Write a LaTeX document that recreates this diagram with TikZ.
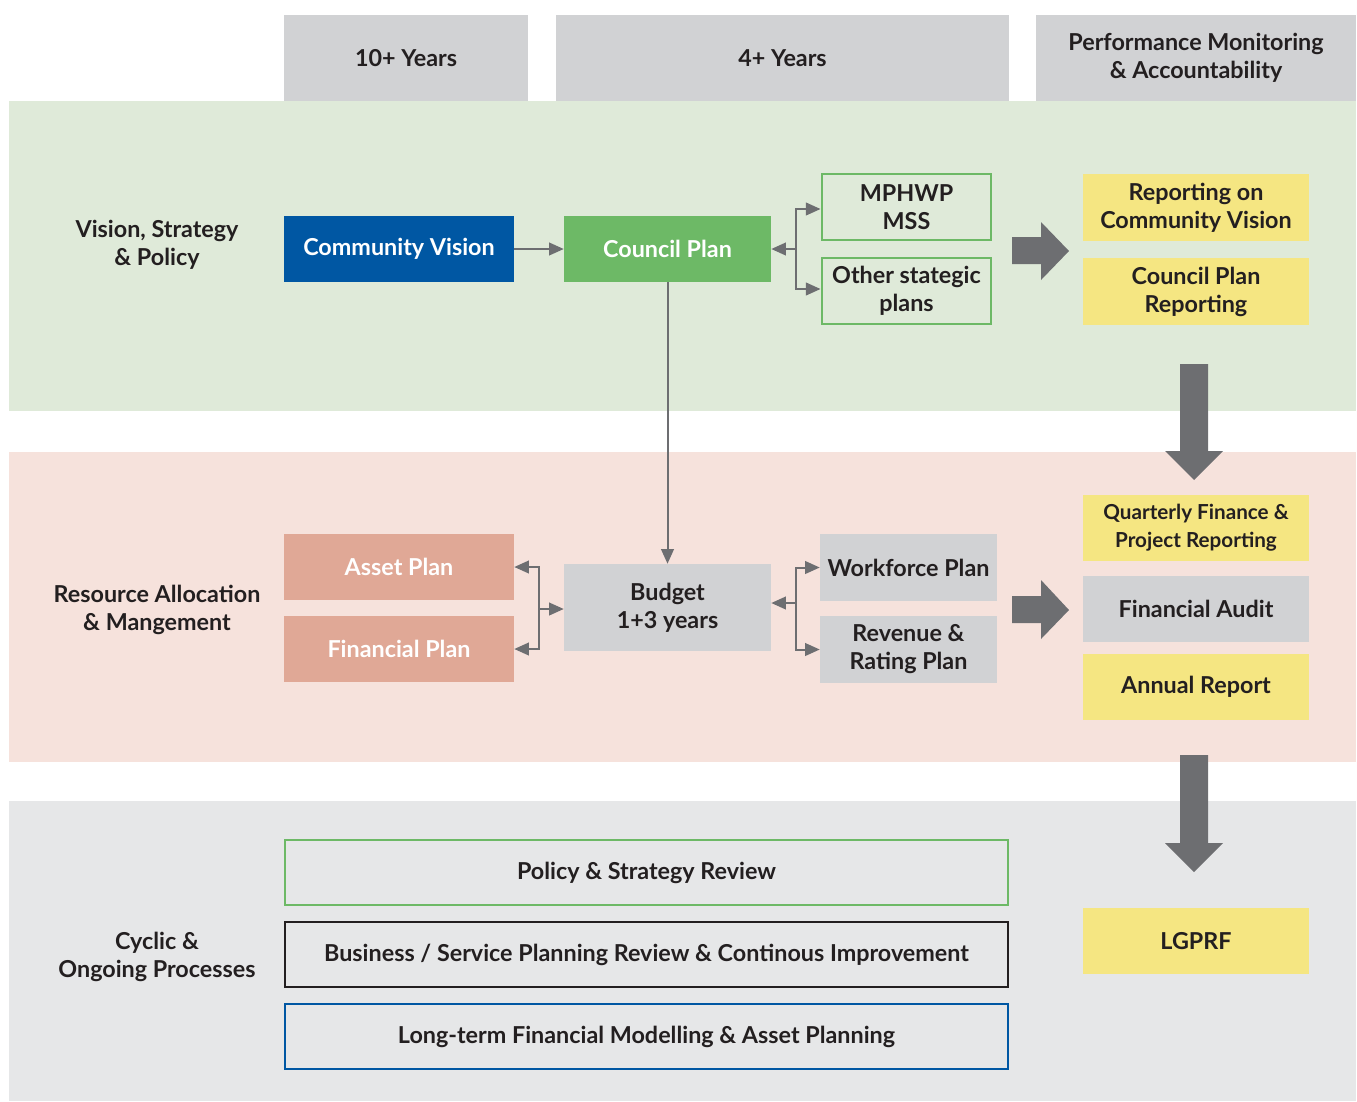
\documentclass[tikz,border=0pt]{standalone}
\usepackage{fontspec}
\setmainfont{Lato}
\usepackage{xcolor}
\usepackage{tikz}
\usetikzlibrary{calc}
\usetikzlibrary{arrows}
\usetikzlibrary{arrows.meta}
\usetikzlibrary{positioning}
\tikzset{>=latex}
\definecolor{hdrgray}{HTML}{D1D2D4}
\definecolor{bandgreen}{HTML}{DFEAD9}
\definecolor{bandpink}{HTML}{F6E2DC}
\definecolor{bandgray}{HTML}{E6E7E8}
\definecolor{cvblue}{HTML}{0057A3}
\definecolor{cpgreen}{HTML}{6DB966}
\definecolor{salmon}{HTML}{E0A896}
\definecolor{repyellow}{HTML}{F5E682}
\definecolor{arrgray}{HTML}{6D6E71}
\definecolor{txtdark}{HTML}{231F20}
\tikzstyle{box} = [rectangle, inner sep=0pt, align=center, text=txtdark, font=\bfseries\fontsize{17.5}{21}\selectfont]
\tikzstyle{lbl} = [align=center, text=txtdark, font=\bfseries\fontsize{17.5}{21}\selectfont]
\tikzstyle{link} = [-{Triangle[length=11pt, width=9.5pt]}, draw=arrgray, line width=1.5pt]
\tikzstyle{bigarrow} = [fill=arrgray, draw=none]

\begin{document}
\begin{tikzpicture}[x=0.75pt, y=-0.75pt]
\useasboundingbox (0,0) rectangle (1357,1101);
% bands
\fill [bandgreen] (9,101) rectangle (1356,411);
\fill [bandpink] (9,452) rectangle (1356,762);
\fill [bandgray] (9,801) rectangle (1356,1101);
% headers
\node [box, fill=hdrgray, minimum width=244*0.75pt, minimum height=86*0.75pt] (ten) at (406,58) {10+ Years};
\node [box, fill=hdrgray, minimum width=453*0.75pt, minimum height=86*0.75pt] (four) at (782.5,58) {4+ Years};
\node [box, fill=hdrgray, minimum width=320*0.75pt, minimum height=86*0.75pt] (perf) at (1196,58) {Performance Monitoring\\ \& Accountability};
% row labels
\node [lbl] (vsp) at (157,245) {Vision, Strategy\\ \& Policy};
\node [lbl] (ram) at (157,610) {Resource Allocation\\ \& Mangement};
\node [lbl] (cop) at (157,957) {Cyclic \&\\ Ongoing Processes};
% vision, strategy & policy
\node [box, fill=cvblue, text=white, minimum width=230*0.75pt, minimum height=66*0.75pt] (cv) at (399,249) {Community Vision};
\node [box, fill=cpgreen, text=white, minimum width=207*0.75pt, minimum height=66*0.75pt] (cp) at (667.5,249) {Council Plan};
\node [box, draw=cpgreen, line width=2.2pt, minimum width=169*0.75pt, minimum height=66*0.75pt] (mss) at (906.5,207) {MPHWP\\ MSS};
\node [box, draw=cpgreen, line width=2.2pt, minimum width=169*0.75pt, minimum height=66*0.75pt] (osp) at (906.5,291) {Other stategic\\ plans};
\node [box, fill=repyellow, minimum width=226*0.75pt, minimum height=67*0.75pt] (rcv) at (1196,207.5) {Reporting on\\ Community Vision};
\node [box, fill=repyellow, minimum width=226*0.75pt, minimum height=67*0.75pt] (cpr) at (1196,291.5) {Council Plan\\ Reporting};
% resource allocation & management
\node [box, fill=salmon, text=white, minimum width=230*0.75pt, minimum height=66*0.75pt] (ap) at (399,567) {Asset Plan};
\node [box, fill=salmon, text=white, minimum width=230*0.75pt, minimum height=66*0.75pt] (fp) at (399,649) {Financial Plan};
\node [box, fill=hdrgray, minimum width=207*0.75pt, minimum height=87*0.75pt] (bud) at (667.5,607.5) {Budget\\ 1+3 years};
\node [box, fill=hdrgray, minimum width=177*0.75pt, minimum height=67*0.75pt] (wf) at (908.5,567.5) {Workforce Plan};
\node [box, fill=hdrgray, minimum width=177*0.75pt, minimum height=67*0.75pt] (rr) at (908.5,649.5) {Revenue \&\\ Rating Plan};
\node [box, fill=repyellow, minimum width=226*0.75pt, minimum height=66*0.75pt] (qf) at (1196,528) {\fontsize{15.5}{19}\selectfont Quarterly Finance \&\\ \fontsize{15.5}{19}\selectfont Project Reporting};
\node [box, fill=hdrgray, minimum width=226*0.75pt, minimum height=66*0.75pt] (fa) at (1196,609) {Financial Audit};
\node [box, fill=repyellow, minimum width=226*0.75pt, minimum height=66*0.75pt] (ar) at (1196,687) {Annual Report};
% cyclic & ongoing
\node [box, draw=cpgreen, line width=2.2pt, minimum width=723*0.75pt, minimum height=65*0.75pt] (psr) at (646.5,872.5) {Policy \& Strategy Review};
\node [box, draw=txtdark, line width=2.2pt, minimum width=723*0.75pt, minimum height=65*0.75pt] (bsp) at (646.5,954.5) {Business / Service Planning Review \& Continous Improvement};
\node [box, draw=cvblue, line width=2.2pt, minimum width=723*0.75pt, minimum height=65*0.75pt] (lfm) at (646.5,1036.5) {Long-term Financial Modelling \& Asset Planning};
\node [box, fill=repyellow, minimum width=226*0.75pt, minimum height=66*0.75pt] (lg) at (1196,941) {LGPRF};
% connectors
\coordinate (jcp) at (796,249);
\coordinate (jbl) at (539,609);
\coordinate (jbr) at (796,603);
\draw [link] (cv) to (cp);
\draw [link] (jcp) to (cp.east);
\draw [link] (jcp) |- ($(mss.west)+(0,2)$);
\draw [link] (jcp) |- ($(osp.west)+(0,-2)$);
\draw [link] (cp.south) to (bud.north);
\draw [link] (jbl) to (bud.west |- jbl);
\draw [link] (jbl) |- (ap.east);
\draw [link] (jbl) |- (fp.east);
\draw [link] (jbr) to (bud.east |- jbr);
\draw [link] (jbr) |- (wf.west);
\draw [link] (jbr) |- (rr.west);
% big arrows
\fill [bigarrow] (1012,237) -- (1041,237) -- (1041,222) -- (1069,251) -- (1041,280) -- (1041,264) -- (1012,264) -- cycle;
\fill [bigarrow] (1012,596) -- (1041,596) -- (1041,580) -- (1069,610) -- (1041,639) -- (1041,623) -- (1012,623) -- cycle;
\fill [bigarrow] (1180,364) -- (1208,364) -- (1208,451) -- (1223,451) -- (1194,480) -- (1165,451) -- (1180,451) -- cycle;
\fill [bigarrow] (1180,755) -- (1208,755) -- (1208,843) -- (1223,843) -- (1194,872) -- (1165,843) -- (1180,843) -- cycle;
\end{tikzpicture}
\end{document}
